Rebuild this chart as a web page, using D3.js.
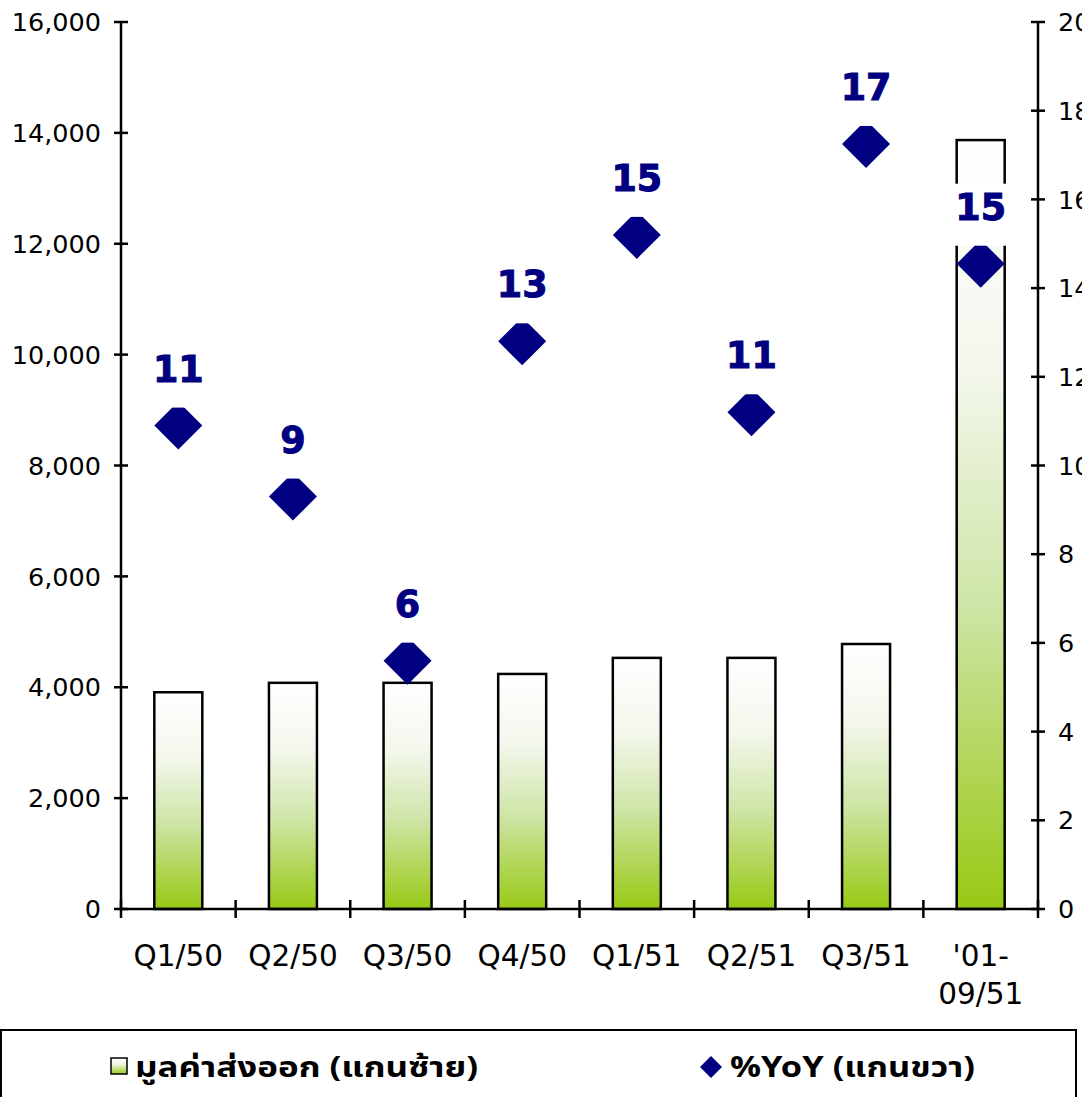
<!DOCTYPE html>
<html><head><meta charset="utf-8">
<script src="https://cdn.jsdelivr.net/npm/d3@7"></script>
<style>body{margin:0;background:#fff}svg{display:block}</style>
</head><body>
<script>
const categories = ["Q1/50","Q2/50","Q3/50","Q4/50","Q1/51","Q2/51","Q3/51","'01-\n09/51"];
const exportValues = [3910, 4080, 4080, 4240, 4530, 4530, 4780, 13870];
const yoyValues = [10.9, 9.3, 5.6, 12.8, 15.2, 11.2, 17.25, 14.55];
const yoyLabels = ["11","9","6","13","15","11","17","15"];
const leftTicks = [0,2000,4000,6000,8000,10000,12000,14000,16000];
const rightTicks = [0,2,4,6,8,10,12,14,16,18,20];
const legendLabels = ["มูลค่าส่งออก (แกนซ้าย)", "%YoY (แกนขวา)"];

const W = 1082, H = 1097;
const svg = d3.select("body").append("svg").attr("width", W).attr("height", H);
const m = {left:121, right:1038, top:22, bottom:909};

const x = d3.scaleBand().domain(categories).range([m.left, m.right]).paddingInner(0).paddingOuter(0);
const yL = d3.scaleLinear().domain([0,16000]).range([m.bottom, m.top]);
const yR = d3.scaleLinear().domain([0,20]).range([m.bottom, m.top]);

const defs = svg.append("defs");
const grad = defs.append("linearGradient").attr("id","g").attr("x1",0).attr("y1",0).attr("x2",0).attr("y2",1);
[[0,"#ffffff"],[0.3,"#f3f7ec"],[0.6,"#cfe5a8"],[1,"#98c914"]].forEach(s=>grad.append("stop").attr("offset",s[0]).attr("stop-color",s[1]));

const font = "'DejaVu Sans', Verdana, sans-serif";
const barW = 48;

// bars
svg.append("g").selectAll("rect").data(exportValues).join("rect")
  .attr("x",(d,i)=>x(categories[i]) + x.bandwidth()/2 - barW/2)
  .attr("y",d=>yL(d)).attr("width",barW).attr("height",d=>yL(0)-yL(d))
  .attr("fill","url(#g)").attr("stroke","#000").attr("stroke-width",2.5);

// left axis
const gl = svg.append("g");
gl.append("line").attr("x1",m.left).attr("x2",m.left).attr("y1",m.top).attr("y2",m.bottom).attr("stroke","#000").attr("stroke-width",2.5);
leftTicks.forEach(t=>{
  gl.append("line").attr("x1",m.left-7).attr("x2",m.left+7).attr("y1",yL(t)).attr("y2",yL(t)).attr("stroke","#000").attr("stroke-width",2.5);
  gl.append("text").attr("x",m.left-20).attr("y",yL(t)).attr("dy","0.36em").attr("text-anchor","end")
    .attr("font-family",font).attr("font-size",25.5).text(d3.format(",")(t));
});
// right axis
const gr = svg.append("g");
gr.append("line").attr("x1",m.right).attr("x2",m.right).attr("y1",m.top).attr("y2",m.bottom).attr("stroke","#000").attr("stroke-width",2.5);
rightTicks.forEach(t=>{
  gr.append("line").attr("x1",m.right-7).attr("x2",m.right+7).attr("y1",yR(t)).attr("y2",yR(t)).attr("stroke","#000").attr("stroke-width",2.5);
  gr.append("text").attr("x",m.right+20).attr("y",yR(t)).attr("dy","0.36em").attr("text-anchor","start")
    .attr("font-family",font).attr("font-size",25.5).text(t);
});
// x axis
const gx = svg.append("g");
gx.append("line").attr("x1",m.left).attr("x2",m.right).attr("y1",m.bottom).attr("y2",m.bottom).attr("stroke","#000").attr("stroke-width",2.5);
categories.concat([null]).forEach((c,i)=>{
  const xx = i<categories.length ? x(c) : m.right;
  gx.append("line").attr("x1",xx).attr("x2",xx).attr("y1",m.bottom-9).attr("y2",m.bottom+9).attr("stroke","#000").attr("stroke-width",2.5);
});
categories.forEach(c=>{
  const lines = c.split("\n");
  const t = gx.append("text").attr("text-anchor","middle").attr("font-family",font).attr("font-size",29.5);
  lines.forEach((l,j)=>t.append("tspan").attr("x",x(c)+x.bandwidth()/2).attr("y",966+j*38).text(l));
});

// diamonds
const cx = i=>x(categories[i]) + x.bandwidth()/2;
svg.append("g").selectAll("path").data(yoyValues).join("path")
  .attr("d",(d,i)=>{const X=cx(i),Y=yR(d);return `M${X},${Y-24}L${X+24},${Y}L${X},${Y+24}L${X-24},${Y}Z`;})
  .attr("fill","#000080");

// labels with white background
const lg = svg.append("g");
yoyValues.forEach((d,i)=>{
  const X=cx(i), Y=yR(d)-44;
  const w = yoyLabels[i].length*26+12;
  lg.append("rect").attr("x",X-w/2).attr("y",Y-36).attr("width",w).attr("height",62).attr("fill","#fff");
  lg.append("text").attr("x",X).attr("y",Y).attr("text-anchor","middle").attr("font-family",font)
    .attr("font-weight","bold").attr("font-size",36.5).attr("fill","#000080")
    .attr("stroke","#000080").attr("stroke-width",1).text(yoyLabels[i]);
});

// legend
const leg = svg.append("g");
leg.append("rect").attr("x",1).attr("y",1030).attr("width",1075).attr("height",120).attr("fill","#fff").attr("stroke","#000").attr("stroke-width",2);
const lgrad = defs.append("linearGradient").attr("id","lg").attr("x1",0).attr("y1",0).attr("x2",0).attr("y2",1);
[[0,"#ffffff"],[0.4,"#eef5e0"],[1,"#98c914"]].forEach(s=>lgrad.append("stop").attr("offset",s[0]).attr("stop-color",s[1]));
leg.append("rect").attr("x",111).attr("y",1058).attr("width",16).attr("height",16).attr("fill","url(#lg)").attr("stroke","#000").attr("stroke-width",1.5);
const lfont = "'Noto Sans Thai','Noto Sans','Liberation Sans','DejaVu Sans',sans-serif";
leg.append("text").attr("x",135).attr("y",1077).attr("font-family",lfont).attr("font-weight","bold").attr("font-size",29)
  .attr("textLength",343).attr("lengthAdjust","spacingAndGlyphs").text(legendLabels[0]);
leg.append("path").attr("d","M711,1056L722,1067L711,1078L700,1067Z").attr("fill","#000080");
leg.append("text").attr("x",730).attr("y",1077).attr("font-family",lfont).attr("font-weight","bold").attr("font-size",29)
  .attr("textLength",245).attr("lengthAdjust","spacingAndGlyphs").text(legendLabels[1]);
</script>
</body></html>
